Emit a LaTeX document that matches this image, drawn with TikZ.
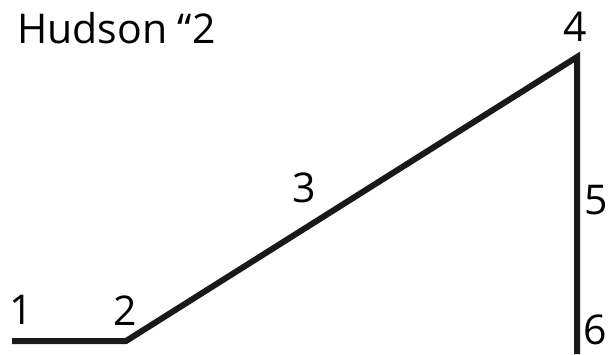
\documentclass[tikz,border=0pt]{standalone}
\usepackage{fontspec}
\setmainfont{Open Sans}
\usepackage{xcolor}
\usepackage{tikz}
\usetikzlibrary{positioning,calc}

\begin{document}
\begin{tikzpicture}[x=1pt, y=-1pt, every node/.style={font=\fontsize{41}{44}\selectfont, inner sep=0pt},
    track/.style={line width=6pt, black!90}]
\useasboundingbox (0,0) rectangle (608,354);

% Title
\node[anchor=base west] (title) at (17,43) {Hudson “2};

% Corner points of the line
\coordinate (p1) at (12,341);
\coordinate (p2) at (126,341);
\coordinate (p4) at (577,57);
\coordinate (p6) at (577,354);

% Line
\draw[track] (p1) -- (p2) -- (p4) -- (p6);

% Point labels
\node (n1) at (21,310) {1};
\node (n2) at (125,311) {2};
\node (n3) at (304,188) {3};
\node (n4) at (575,27) {4};
\node (n5) at (596,200) {5};
\node (n6) at (595,330) {6};
\end{tikzpicture}
\end{document}
